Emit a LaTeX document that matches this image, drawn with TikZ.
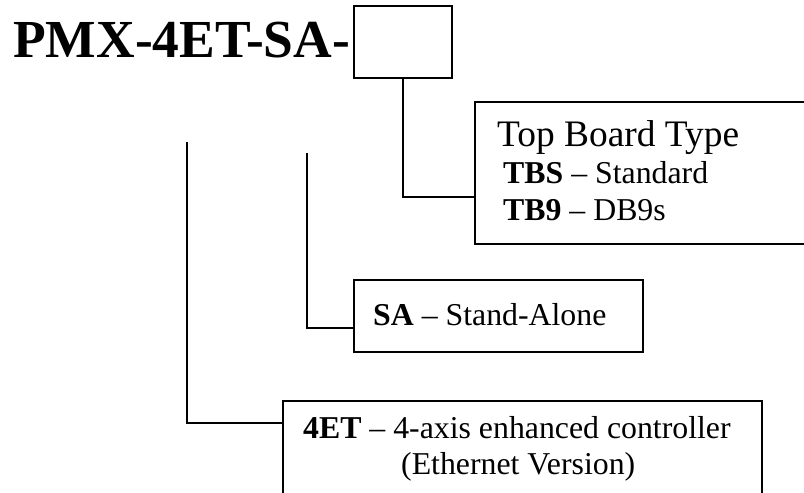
\documentclass[tikz,border=0pt]{standalone}
\usepackage{fontspec}
\setmainfont{Liberation Serif}
\begin{document}
\begin{tikzpicture}[x=1pt,y=-1pt,
  frame/.style={draw=black,line width=1.8pt},
  conn/.style={draw=black,line width=1.7pt},
  lbl/.style={anchor=base west,inner sep=0pt,text=black},
  big/.style={font=\fontsize{53.5}{60}\selectfont\bfseries},
  mid/.style={font=\fontsize{37.4}{42}\selectfont},
  txt/.style={font=\fontsize{31.8}{37}\selectfont}]
\clip (0,0) rectangle (804,493);
\fill[white] (0,0) rectangle (804,493);
% title
\node[lbl,big] (title) at (13,57) {PMX-4ET-SA-};
% slot box
\draw[frame] (354,6) rectangle (452,78);
\coordinate (slot) at (403,78);
% boxes
\draw[frame] (475,102) rectangle (820,244);
\draw[frame] (354,280) rectangle (643,352);
\draw[frame] (283,401) rectangle (762,520);
% texts
\node[lbl,mid] (tbt) at (497,146) {Top Board Type};
\node[lbl,txt] (tbs) at (503,183) {\textbf{TBS} -- Standard};
\node[lbl,txt] (tb9) at (503,220) {\textbf{TB9} -- DB9s};
\node[lbl,txt] (sa) at (373,325) {\textbf{SA} -- Stand-Alone};
\node[lbl,txt] (et) at (303,438) {\textbf{4ET} -- 4-axis enhanced controller};
\node[lbl,txt] (eth) at (401,474) {(Ethernet Version)};
% connectors
\coordinate (s1) at (187,142);
\coordinate (e1) at (283,423);
\coordinate (s2) at (307,153);
\coordinate (e2) at (354,328);
\coordinate (e3) at (475,197);
\draw[conn] (s1) |- (e1);
\draw[conn] (s2) |- (e2);
\draw[conn] (slot) |- (e3);
\end{tikzpicture}
\end{document}
